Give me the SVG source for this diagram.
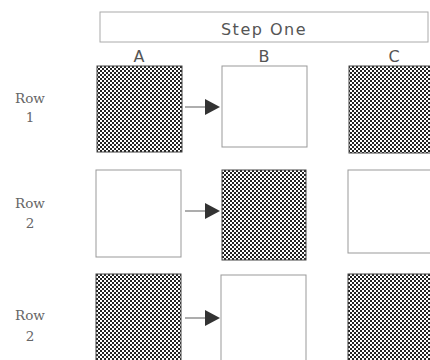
<svg xmlns="http://www.w3.org/2000/svg" width="430" height="360" viewBox="0 0 430 360">
<style>
.lbl{font-family:"DejaVu Sans","Liberation Sans",sans-serif;font-size:16px;fill:#555;text-anchor:middle}
.row{font-family:"DejaVu Serif","Liberation Serif",serif;font-size:13.5px;fill:#666;text-anchor:middle}
.w{fill:#fff;stroke:#999;stroke-width:1}
.c{fill:url(#chk);stroke:#444;stroke-width:1}
.ln{stroke:#777;stroke-width:1.2;fill:none}
.hd{fill:#333}
</style>
<defs>
<pattern id="chk" width="4" height="4" patternUnits="userSpaceOnUse">
<rect width="4" height="4" fill="#222"/>
<rect width="2" height="2" fill="#fff"/>
<rect x="2" y="2" width="2" height="2" fill="#fff"/>
</pattern>
</defs>
<rect width="430" height="360" fill="#fff"/>
<g id="header">
<rect x="100" y="12" width="328" height="30" fill="#fff" stroke="#aaa" stroke-width="1"/>
<text class="lbl" x="264" y="35" font-size="17" letter-spacing="1.5">Step One</text>
</g>
<g id="col-labels">
<text class="lbl" x="139" y="62">A</text>
<text class="lbl" x="264" y="62">B</text>
<text class="lbl" x="394" y="62">C</text>
</g>
<g id="row-labels">
<text class="row" x="30" y="103">Row</text>
<text class="row" x="30" y="122">1</text>
<text class="row" x="30" y="208">Row</text>
<text class="row" x="30" y="228">2</text>
<text class="row" x="30" y="320">Row</text>
<text class="row" x="30" y="341">2</text>
</g>
<g id="r1a"><rect class="c" x="97" y="66" width="85" height="86"/></g>
<g id="r1b"><rect class="w" x="222" y="66" width="85" height="81"/></g>
<g id="r1c"><rect class="c" x="349" y="66" width="85" height="87"/></g>
<g id="r2a"><rect class="w" x="96" y="170" width="85" height="87"/></g>
<g id="r2b"><rect class="c" x="222" y="170" width="84" height="90"/></g>
<g id="r2c"><rect class="w" x="348" y="170" width="86" height="83"/></g>
<g id="r3a"><rect class="c" x="96" y="274" width="85" height="90"/></g>
<g id="r3b"><rect class="w" x="221" y="275" width="85" height="90"/></g>
<g id="r3c"><rect class="c" x="348" y="274" width="86" height="90"/></g>
<g id="connectors">
<line class="ln" x1="185" y1="107" x2="206" y2="107"/>
<polygon class="hd" points="205,99 220,107 205,115"/>
<line class="ln" x1="185" y1="211" x2="206" y2="211"/>
<polygon class="hd" points="205,203 220,211 205,219"/>
<line class="ln" x1="185" y1="318" x2="206" y2="318"/>
<polygon class="hd" points="205,310 220,318 205,326"/>
</g>
</svg>
